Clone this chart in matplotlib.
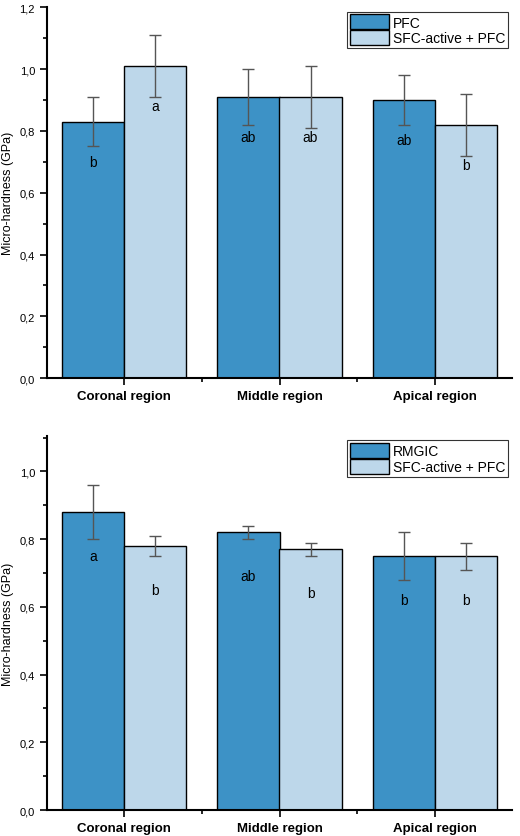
import matplotlib
matplotlib.use("Agg")
import matplotlib.pyplot as plt
import numpy as np
from matplotlib.ticker import MultipleLocator, FuncFormatter

regions = ["Coronal region", "Middle region", "Apical region"]
top_labels = ["PFC", "SFC-active + PFC"]
top_a = [0.83, 0.91, 0.90]; top_a_err = [0.08, 0.09, 0.08]
top_b = [1.01, 0.91, 0.82]; top_b_err = [0.10, 0.10, 0.10]
top_a_let = ["b", "ab", "ab"]; top_b_let = ["a", "ab", "b"]
bot_labels = ["RMGIC", "SFC-active + PFC"]
bot_a = [0.88, 0.82, 0.75]; bot_a_err = [0.08, 0.02, 0.07]
bot_b = [0.78, 0.77, 0.75]; bot_b_err = [0.03, 0.02, 0.04]
bot_a_let = ["a", "ab", "b"]; bot_b_let = ["b", "b", "b"]

plt.rcParams['font.family'] = ['Liberation Sans', 'DejaVu Sans']
C1, C2 = "#3d92c6", "#bdd7ea"
fig = plt.figure(figsize=(5.2, 8.37), dpi=100)

def panel(rect, a, ae, b, be, la, lb, labels, ytop, major):
    ax = fig.add_axes(rect)
    x = np.arange(3)
    w = 0.4
    ekw = dict(ecolor="#555555", elinewidth=1, capsize=4, capthick=1)
    ax.bar(x - w/2, a, w, yerr=ae, color=C1, edgecolor="black", linewidth=1, label=labels[0], error_kw=ekw)
    ax.bar(x + w/2, b, w, yerr=be, color=C2, edgecolor="black", linewidth=1, label=labels[1], error_kw=ekw)
    for i in range(3):
        ax.text(x[i] - w/2, a[i] - 0.13, la[i], ha="center", va="center", fontsize=10)
        ax.text(x[i] + w/2, b[i] - 0.13, lb[i], ha="center", va="center", fontsize=10)
    ax.set_xlim(-0.5, 2.5)
    ax.set_ylim(0, ytop)
    ax.yaxis.set_major_locator(MultipleLocator(0.2))
    ax.yaxis.set_minor_locator(MultipleLocator(0.1))
    ax.yaxis.set_major_formatter(FuncFormatter(lambda v, p: f"{v:.1f}".replace(".", ",")))
    ax.set_xticks(x)
    ax.set_xticklabels(regions, fontweight="bold", fontsize=9.5)
    ax.set_xticks([0.5, 1.5], minor=True)
    ax.tick_params(axis="both", which="major", length=5, width=1.2, labelsize=8, direction="out")
    ax.tick_params(axis="both", which="minor", length=3, width=1.2, direction="out")
    ax.tick_params(axis="x", labelsize=9.5)
    for s in ["top", "right"]:
        ax.spines[s].set_visible(False)
    for s in ["left", "bottom"]:
        ax.spines[s].set_linewidth(1.5)
    ax.set_ylabel("Micro-hardness (GPa)", fontsize=9)
    leg = ax.legend(loc="upper right", frameon=True, fancybox=False, edgecolor="black",
                    fontsize=10, handlelength=2.8, handleheight=1.3, borderpad=0.2,
                    labelspacing=0.05, handletextpad=0.3, borderaxespad=0.3)
    leg.get_frame().set_linewidth(0.8)
    return ax

panel([0.09, 0.547, 0.895, 0.443], top_a, top_a_err, top_b, top_b_err,
      top_a_let, top_b_let, top_labels, 1.2, 0.2)
panel([0.09, 0.031, 0.895, 0.447], bot_a, bot_a_err, bot_b, bot_b_err,
      bot_a_let, bot_b_let, bot_labels, 1.105, 0.2)
fig.savefig("out.png", dpi=100)
